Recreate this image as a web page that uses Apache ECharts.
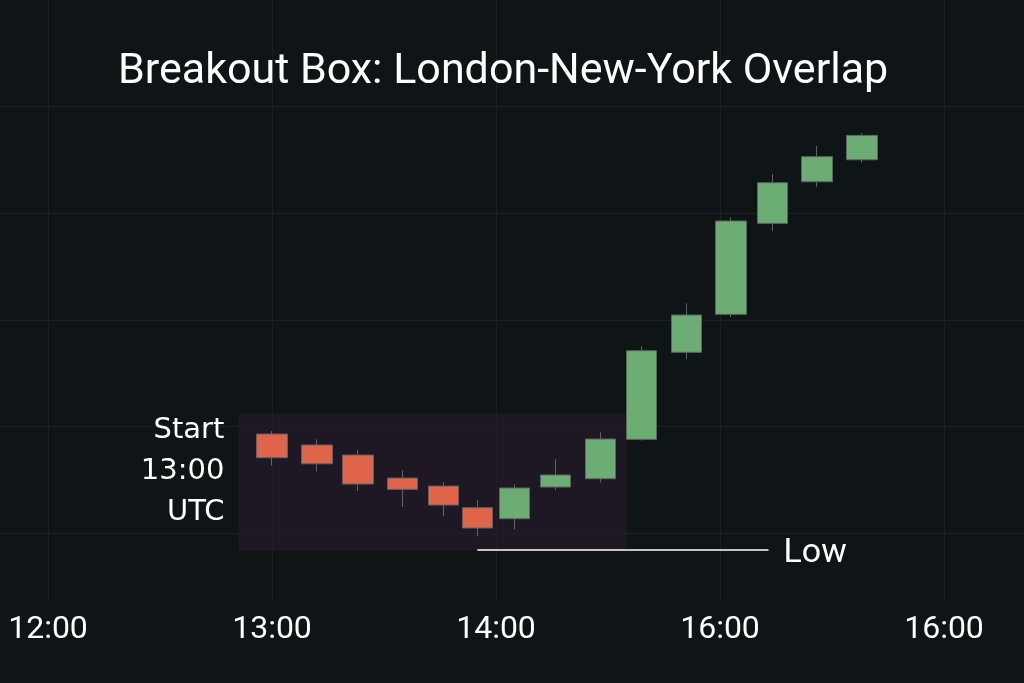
<!DOCTYPE html>
<html><head><meta charset="utf-8">
<script src="https://cdn.jsdelivr.net/npm/echarts@6/dist/echarts.min.js"></script>
<style>html,body{margin:0;padding:0;background:#0f1417;}#c{width:1024px;height:683px;}</style>
</head><body><div id="c"></div>
<script>
// axis ticks (minutes after 12:00) and their labels
const tickTimes = [0, 60, 120, 180, 240];
const tickLabels = ['12:00', '13:00', '14:00', '16:00', '16:00'];
// candle times (minutes after 12:00)
const candleTimes = [60, 72, 83, 95, 106, 115, 125, 136, 148, 159, 171, 183, 194, 206, 218];
const opens  = [109.31, 108.28, 107.34, 105.18, 104.43, 102.40, 101.37, 104.34, 105.12, 108.81, 116.97, 120.53, 129.06, 132.96, 135.02];
const closes = [107.09, 106.52, 104.62, 104.12, 102.65, 100.50, 104.25, 105.47, 108.84, 117.12, 120.47, 129.28, 132.87, 135.31, 137.31];
const lows   = [106.34, 105.81, 103.97, 102.47, 101.62,  99.72, 100.37, 104.06, 104.78, 108.68, 116.31, 120.28, 128.37, 132.49, 134.74];
const highs  = [109.59, 108.81, 107.81, 105.91, 104.81, 103.12, 104.59, 106.94, 109.47, 117.53, 121.56, 129.62, 133.68, 136.31, 137.50];
// breakout box (overlap range) and low line
const boxTimes = [51, 155];
const boxRange = [111.2, 98.4];
const lowLineTimes = [115, 193];
const lowLevel = 98.43;

const candleData = candleTimes.map((t, i) => [t, opens[i], closes[i], lows[i], highs[i]]);

const chart = echarts.init(document.getElementById('c'), null, {renderer: 'canvas'});
chart.setOption({
  backgroundColor: '#0f1417',
  animation: false,
  title: {
    text: 'Breakout Box: London-New-York Overlap',
    left: 113, top: 46,
    textStyle: {color: '#ffffff', fontSize: 43, fontWeight: 'normal', fontFamily: 'Roboto'}
  },
  grid: [
    {left: 0, right: 0, top: 0, bottom: 43},
    {left: 48, right: 80, top: 0, bottom: 83}
  ],
  xAxis: [
    {type: 'value', gridIndex: 0, min: -12.857, max: 261.43, show: false},
    {type: 'value', gridIndex: 1, min: 0, max: 240, interval: 60,
     axisLine: {show: false}, axisTick: {show: false},
     splitLine: {show: true, lineStyle: {color: '#1a2024', width: 1}},
     axisLabel: {color: '#ffffff', fontSize: 32, fontFamily: 'Roboto', margin: 14,
       formatter: v => tickLabels[tickTimes.indexOf(v)] || ''}}
  ],
  yAxis: [
    {type: 'value', gridIndex: 0, min: 90, max: 150, interval: 10,
     axisLine: {show: false}, axisTick: {show: false}, axisLabel: {show: false},
     splitLine: {show: true, lineStyle: {width: 1,
       color: ['rgba(0,0,0,0)', '#1b2125', '#1b2125', '#1b2125', '#1b2125', '#281c25', 'rgba(0,0,0,0)']}}},
    {type: 'value', gridIndex: 1, min: 0, max: 1, show: false}
  ],
  series: [{
    type: 'candlestick',
    xAxisIndex: 0, yAxisIndex: 0,
    barWidth: 31,
    data: candleData,
    itemStyle: {
      color: '#6cad74', color0: '#df6449',
      borderColor: '#5e6462', borderColor0: '#5e6462', borderWidth: 1
    },
    markArea: {
      silent: true,
      itemStyle: {color: 'rgba(40,27,46,0.6)'},
      label: {
        show: true, position: 'left', distance: 14, offset: [0, -11],
        color: '#ffffff', fontSize: 29, fontFamily: 'DejaVu Sans', lineHeight: 41, align: 'right'
      },
      data: [[
        {name: 'Start\n13:00\nUTC', coord: [boxTimes[0], boxRange[0]]},
        {coord: [boxTimes[1], boxRange[1]]}
      ]]
    },
    markLine: {
      silent: true, symbol: ['none', 'none'],
      lineStyle: {color: '#ffffff', width: 1.5, type: 'solid'},
      label: {show: true, position: 'end', distance: 15, color: '#ffffff', fontSize: 34,
              fontFamily: 'Roboto', formatter: 'Low', offset: [0, 3]},
      data: [[
        {coord: [lowLineTimes[0], lowLevel]},
        {coord: [lowLineTimes[1], lowLevel]}
      ]]
    }
  }]
});
</script></body></html>
